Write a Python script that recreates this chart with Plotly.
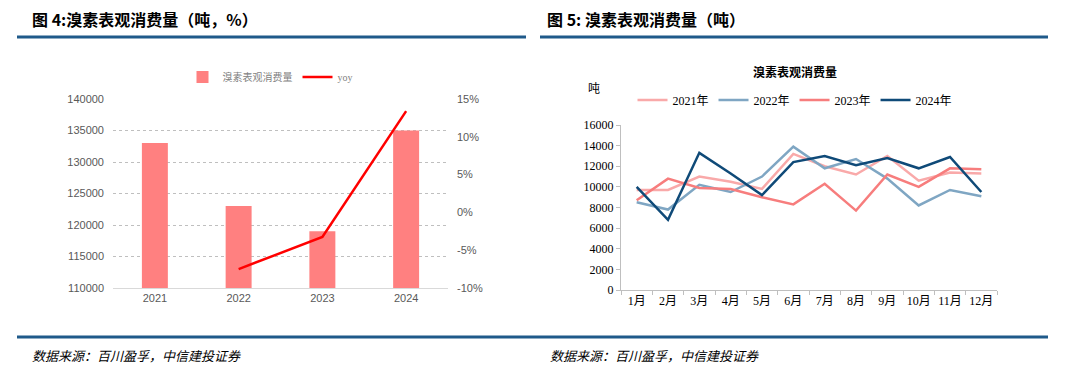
import plotly.graph_objects as go

# ---- Data ----
years = ["2021", "2022", "2023", "2024"]
consumption = [133000, 123000, 119000, 135000]
yoy_years = ["2022", "2023", "2024"]
yoy = [-7.5, -3.25, 13.4]
left_ticks = [110000, 115000, 120000, 125000, 130000, 135000, 140000]
yoy_ticks = [-10, -5, 0, 5, 10, 15]
yoy_tick_text = ["-10%", "-5%", "0%", "5%", "10%", "15%"]

months = ["1月", "2月", "3月", "4月", "5月", "6月", "7月", "8月", "9月", "10月", "11月", "12月"]
y2021 = [9700, 9700, 11000, 10500, 9800, 13200, 12000, 11200, 13000, 10600, 11400, 11300]
y2022 = [8500, 7800, 10200, 9500, 11000, 13900, 11800, 12700, 10800, 8200, 9700, 9100]
y2023 = [8700, 10800, 9900, 9800, 9000, 8300, 10300, 7700, 11200, 10000, 11800, 11700]
y2024 = [10000, 6800, 13300, 11300, 9200, 12400, 13000, 12100, 12800, 11800, 12900, 9500]
right_ticks = [0, 2000, 4000, 6000, 8000, 10000, 12000, 14000, 16000]

W, H = 1080, 381
OFF = 8  # page body margin
def px(x):
    return (x - OFF) / W
def py(y):
    return 1 - (y - OFF) / H

SANS = "Liberation Sans, Arial, sans-serif"
SERIF = "Liberation Serif, Times New Roman, Noto Sans CJK SC, serif"
CJK = "Noto Sans CJK SC, sans-serif"

fig = go.Figure()

# Left chart
fig.add_trace(go.Bar(x=years, y=consumption, name="溴素表观消费量", marker_color="#ff8080",
                     width=0.31, xaxis="x", yaxis="y", legend="legend"))
fig.add_trace(go.Scatter(x=yoy_years, y=yoy, name="yoy", mode="lines",
                         line=dict(color="#ff0000", width=2.5), xaxis="x", yaxis="y2", legend="legend"))

# Right chart
series = [("2021年", y2021, "#f9a9a9"), ("2022年", y2022, "#7fa6c3"),
          ("2023年", y2023, "#f77d7d"), ("2024年", y2024, "#0f4a78")]
for name, vals, col in series:
    fig.add_trace(go.Scatter(x=months, y=vals, name=name, mode="lines",
                             line=dict(color=col, width=2.5), xaxis="x3", yaxis="y3", legend="legend2"))

fig.update_layout(
    template="none",
    width=W, height=H,
    margin=dict(l=0, r=0, t=0, b=0, pad=0, autoexpand=False),
    paper_bgcolor="white", plot_bgcolor="white",
    showlegend=True,
    xaxis=dict(domain=[px(113), px(448)], anchor="y", showgrid=False, showline=True,
               linecolor="#d9d9d9", linewidth=1, ticks="", automargin=False, tickangle=0,
               tickfont=dict(family=SANS, size=11, color="#595959")),
    yaxis=dict(domain=[py(288), py(99)], range=[110000, 140000], tickvals=left_ticks,
               tickformat="d", showgrid=True, gridcolor="#bfbfbf", griddash="dot", gridwidth=1,
               showline=False, zeroline=False, ticks="", automargin=False, ticklabelstandoff=8,
               tickfont=dict(family=SANS, size=11, color="#595959")),
    yaxis2=dict(domain=[py(288), py(99)], range=[-10, 15], tickvals=yoy_ticks, ticktext=yoy_tick_text,
                overlaying="y", side="right", anchor="x", showgrid=False,
                zeroline=False, showline=False, ticks="", automargin=False, ticklabelstandoff=8,
                tickfont=dict(family=SANS, size=11, color="#595959")),
    xaxis3=dict(domain=[px(621), px(997)], anchor="y3", range=[-0.5, 11.5], showgrid=False,
                showline=True, linecolor="#bfbfbf", linewidth=1, ticks="outside", ticklen=4,
                tickcolor="#bfbfbf", tickson="boundaries", automargin=False, tickangle=0,
                tickfont=dict(family=SERIF, size=12, color="#000000")),
    yaxis3=dict(domain=[py(290), py(125)], range=[0, 16000], tickvals=right_ticks, tickformat="d",
                anchor="x3", showgrid=False, showline=True, linecolor="#bfbfbf", linewidth=1,
                zeroline=False, ticks="outside", ticklen=4, tickcolor="#bfbfbf", automargin=False,
                tickfont=dict(family=SERIF, size=12, color="#000000")),
    legend=dict(orientation="h", x=px(270), y=py(77), xanchor="center", yanchor="middle",
                font=dict(family=SERIF, size=10, color="#7f7f7f"), bgcolor="rgba(0,0,0,0)",
                tracegroupgap=0),
    legend2=dict(orientation="h", x=px(795), y=py(100), xanchor="center", yanchor="middle",
                 font=dict(family=SERIF, size=12, color="#000000"), bgcolor="rgba(0,0,0,0)"),
)

shapes = [
    dict(type="line", xref="paper", yref="paper", x0=px(17), x1=px(526), y0=py(37), y1=py(37),
         line=dict(color="#1f5a8a", width=3)),
    dict(type="line", xref="paper", yref="paper", x0=px(540), x1=px(1048), y0=py(37), y1=py(37),
         line=dict(color="#1f5a8a", width=3)),
    dict(type="line", xref="paper", yref="paper", x0=px(17), x1=px(1048), y0=py(337), y1=py(337),
         line=dict(color="#1f5a8a", width=3)),
    dict(type="line", xref="x domain", yref="y", x0=0, x1=1, y0=115000, y1=115000,
         line=dict(color="#404040", width=1, dash="dot"), layer="below"),
]
fig.update_layout(shapes=shapes)

annotations = [
    dict(text="<b>图 4:溴素表观消费量（吨，%）</b>", x=px(30), y=py(19), xanchor="left", yanchor="middle",
         font=dict(family=CJK, size=16, color="#000000")),
    dict(text="<b>图 5: 溴素表观消费量（吨）</b>", x=px(545), y=py(19), xanchor="left", yanchor="middle",
         font=dict(family=CJK, size=16, color="#000000")),
    dict(text="<b>溴素表观消费量</b>", x=px(795), y=py(72), xanchor="center", yanchor="middle",
         font=dict(family=SERIF, size=12, color="#000000")),
    dict(text="吨", x=px(594), y=py(89), xanchor="center", yanchor="middle",
         font=dict(family=SERIF, size=12, color="#000000")),
    dict(text="<i>数据来源：百川盈孚，中信建投证券</i>", x=px(30), y=py(355), xanchor="left", yanchor="middle",
         font=dict(family=CJK, size=13, color="#000000")),
    dict(text="<i>数据来源：百川盈孚，中信建投证券</i>", x=px(548), y=py(355), xanchor="left", yanchor="middle",
         font=dict(family=CJK, size=13, color="#000000")),
]
for a in annotations:
    a.update(xref="paper", yref="paper", showarrow=False)
fig.update_layout(annotations=annotations)

fig.write_html("out.html")
